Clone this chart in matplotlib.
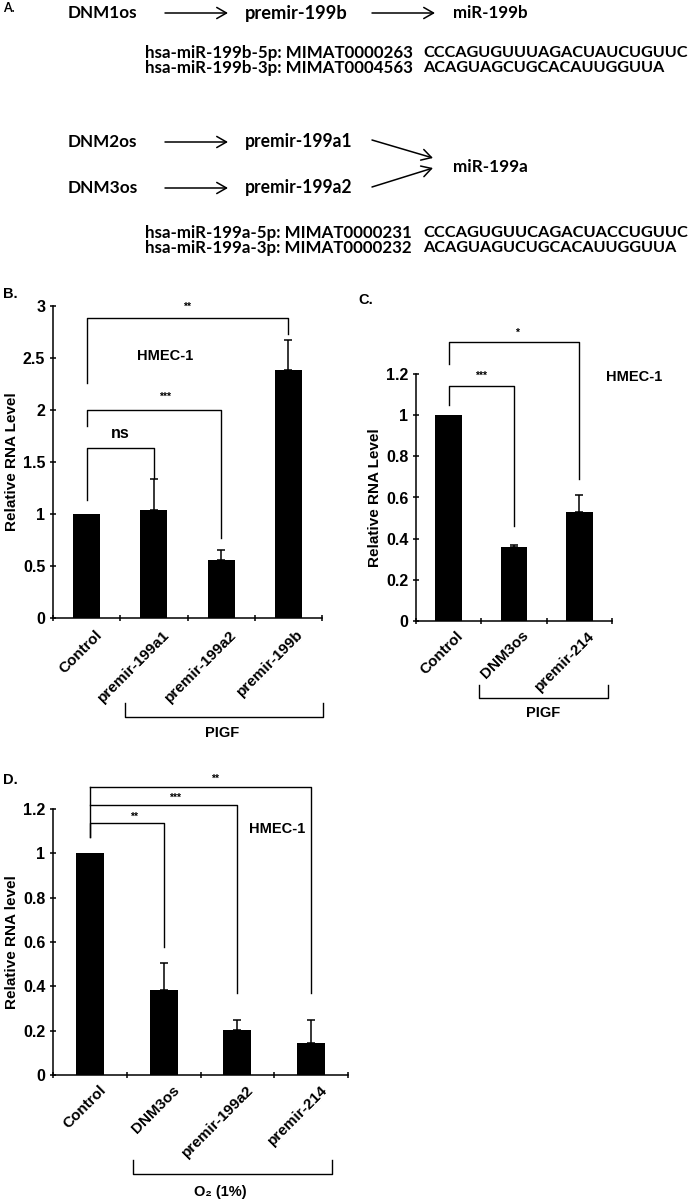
import numpy as np
import matplotlib
matplotlib.use("Agg")
import matplotlib.pyplot as plt

W, H = 693, 1201

# panel B data
b_labels = ["Control", "premir-199a1", "premir-199a2", "premir-199b"]
b_means = [1.0, 1.04, 0.56, 2.38]
b_errs = [0.0, 0.30, 0.09, 0.29]

# panel C data
c_labels = ["Control", "DNM3os", "premir-214"]
c_means = [1.0, 0.36, 0.53]
c_errs = [0.0, 0.01, 0.08]

# panel D data
d_labels = ["Control", "DNM3os", "premir-199a2", "premir-214"]
d_means = [1.0, 0.385, 0.205, 0.145]
d_errs = [0.0, 0.12, 0.045, 0.105]

seq_b = [("hsa-miR-199b-5p: MIMAT0000263", "CCCAGUGUUUAGACUAUCUGUUC"),
         ("hsa-miR-199b-3p: MIMAT0004563", "ACAGUAGCUGCACAUUGGUUA")]
seq_a = [("hsa-miR-199a-5p: MIMAT0000231", "CCCAGUGUUCAGACUACCUGUUC"),
         ("hsa-miR-199a-3p: MIMAT0000232", "ACAGUAGUCUGCACAUUGGUUA")]

BOLD = dict(family="Liberation Sans", fontweight="bold")
FS = 10.5


def fx(x):
    return x / W


def fy(y):
    return 1 - y / H


def add_ax(left, top, right, bottom):
    return fig.add_axes([fx(left), fy(bottom), fx(right - left), (bottom - top) / H])


def bar_panel(ax, labels, means, errs, ymax, ystep, ylabel, width):
    x = np.arange(len(labels))
    ax.bar(x, means, width=width, color="black", zorder=2)
    for xi, m, e in zip(x, means, errs):
        if e > 0:
            ax.errorbar(xi, m, yerr=[[0], [e]], fmt="none", ecolor="black",
                        elinewidth=1.1, capsize=3, capthick=1.1, zorder=1)
    ax.set_xlim(-0.5, len(labels) - 0.5)
    ax.set_ylim(0, ymax)
    ax.set_xticks(np.arange(len(labels) + 1) - 0.5)
    ax.set_xticklabels([])
    yt = np.round(np.arange(0, ymax + 1e-9, ystep), 2)
    ax.set_yticks(yt)
    ax.set_yticklabels(["%g" % v for v in yt], fontsize=11.5, **BOLD)
    ax.tick_params(axis="both", direction="inout", length=5, width=1.1, pad=3)
    for s in ["top", "right"]:
        ax.spines[s].set_visible(False)
    for s in ["left", "bottom"]:
        ax.spines[s].set_linewidth(1.1)
    for xi, lab in zip(x, labels):
        ax.text(xi + 0.12, -0.03 * ymax, lab, rotation=45, ha="right", va="top",
                rotation_mode="anchor", fontsize=11, **BOLD)
    ax.set_ylabel(ylabel, fontsize=11, labelpad=3, **BOLD)


def bracket(ax, x1, x2, y, y1, y2, text, ty, tx=None, fs=7.5):
    ax.plot([x1, x1, x2, x2], [y1, y, y, y2], color="black", lw=1.0, clip_on=False)
    if tx is None:
        tx = (x1 + x2) / 2
    ax.text(tx, ty, text, ha="center", va="center", fontsize=fs, **BOLD)


fig = plt.figure(figsize=(W / 100, H / 100), dpi=100)
renderer = fig.canvas.get_renderer()

# ---- panel A ----
fam_a = "Lato"
FA = 13.5


def fit_text(x, y, s, width=None):
    t = fig.text(fx(x), fy(y), s, fontsize=FA, family=fam_a, fontweight="bold", va="center")
    if width is not None:
        w = t.get_window_extent(renderer).width
        t.set_fontsize(FA * width / w)
    return t


fig.text(fx(3), fy(8), "A.", fontsize=9, family=fam_a, fontweight="bold", va="center")
fit_text(68, 13, "DNM1os", 70)
fit_text(245, 13, "premir-199b", 103)
fit_text(453, 13, "miR-199b", 75)
fit_text(68, 142, "DNM2os", 70)
fit_text(245, 142, "premir-199a1", 108)
fit_text(68, 188, "DNM3os", 70)
fit_text(245, 188, "premir-199a2", 108)
fit_text(453, 167, "miR-199a", 75)


def arrow(x1, y1, x2, y2):
    fig.add_artist(matplotlib.patches.FancyArrowPatch(
        (fx(x1), fy(y1)), (fx(x2), fy(y2)), transform=fig.transFigure,
        arrowstyle="->,head_length=7,head_width=4", lw=1.1, color="black",
        shrinkA=0, shrinkB=0))


arrow(165, 13, 228, 13)
arrow(372, 13, 435, 13)
arrow(165, 142, 228, 142)
arrow(165, 188, 228, 188)
arrow(372, 140, 433, 158)
arrow(372, 187, 433, 168)

for (name, s), y in zip(seq_b + seq_a, [53, 68, 233, 248]):
    fit_text(145, y, name, 267)
    fit_text(423, y, s, 267 * len(s) / 23)

# ---- panel B ----
axb = add_ax(53, 306, 322, 618)
bar_panel(axb, b_labels, b_means, b_errs, 3, 0.5, "Relative RNA Level", 0.4)
bracket(axb, 0, 3, 2.88, 2.26, 2.73, "**", 2.99, tx=1.5)
bracket(axb, 0, 2, 2.0, 1.85, 0.77, "***", 2.13, tx=1.17)
bracket(axb, 0, 1, 1.63, 1.13, 1.35, "ns", 1.77, tx=0.5, fs=11.5)
axb.text(1.16, 2.52, "HMEC-1", ha="center", va="center", fontsize=FS, **BOLD)
fig.text(fx(3), fy(294), "B.", fontsize=FS, va="center", **BOLD)
# PIGF bracket
fig.add_artist(plt.Line2D([fx(125), fx(125), fx(323), fx(323)], [fy(703), fy(717), fy(717), fy(703)],
                          transform=fig.transFigure, color="black", lw=1.0))
fig.text(fx(222), fy(733), "PIGF", ha="center", va="center", fontsize=FS, **BOLD)

# ---- panel C ----
axc = add_ax(416, 374, 612, 621)
bar_panel(axc, c_labels, c_means, c_errs, 1.2, 0.2, "Relative RNA Level", 0.41)
bracket(axc, 0, 2, 1.355, 1.25, 0.69, "*", 1.40, tx=1.05)
bracket(axc, 0, 1, 1.14, 1.05, 0.46, "***", 1.19, tx=0.5)
fig.text(fx(606), fy(377), "HMEC-1", ha="left", va="center", fontsize=FS, **BOLD)
fig.text(fx(358), fy(300), "C.", fontsize=FS, va="center", **BOLD)
fig.add_artist(plt.Line2D([fx(479), fx(479), fx(608), fx(608)], [fy(685), fy(698), fy(698), fy(685)],
                          transform=fig.transFigure, color="black", lw=1.0))
fig.text(fx(543), fy(713), "PIGF", ha="center", va="center", fontsize=FS, **BOLD)

# ---- panel D ----
axd = add_ax(53, 809, 348, 1075)
bar_panel(axd, d_labels, d_means, d_errs, 1.2, 0.2, "Relative RNA level", 0.38)
axd.plot([0, 0], [1.30, 1.074], color="black", lw=1.0, clip_on=False)
bracket(axd, 0, 3, 1.30, 1.30, 0.37, "**", 1.335, tx=1.7)
bracket(axd, 0, 2, 1.218, 1.218, 0.37, "***", 1.25, tx=1.15)
bracket(axd, 0, 1, 1.137, 1.074, 0.577, "**", 1.165, tx=0.6)
axd.text(2.54, 1.11, "HMEC-1", ha="center", va="center", fontsize=FS, **BOLD)
fig.text(fx(3), fy(780), "D.", fontsize=FS, va="center", **BOLD)
fig.add_artist(plt.Line2D([fx(133), fx(133), fx(332), fx(332)], [fy(1160), fy(1174), fy(1174), fy(1160)],
                          transform=fig.transFigure, color="black", lw=1.0))
fig.text(fx(220), fy(1192), "O₂ (1%)", ha="center", va="center", fontsize=FS,
         family=["Liberation Sans", "DejaVu Sans"], fontweight="bold")

fig.savefig("out.png", dpi=100)
